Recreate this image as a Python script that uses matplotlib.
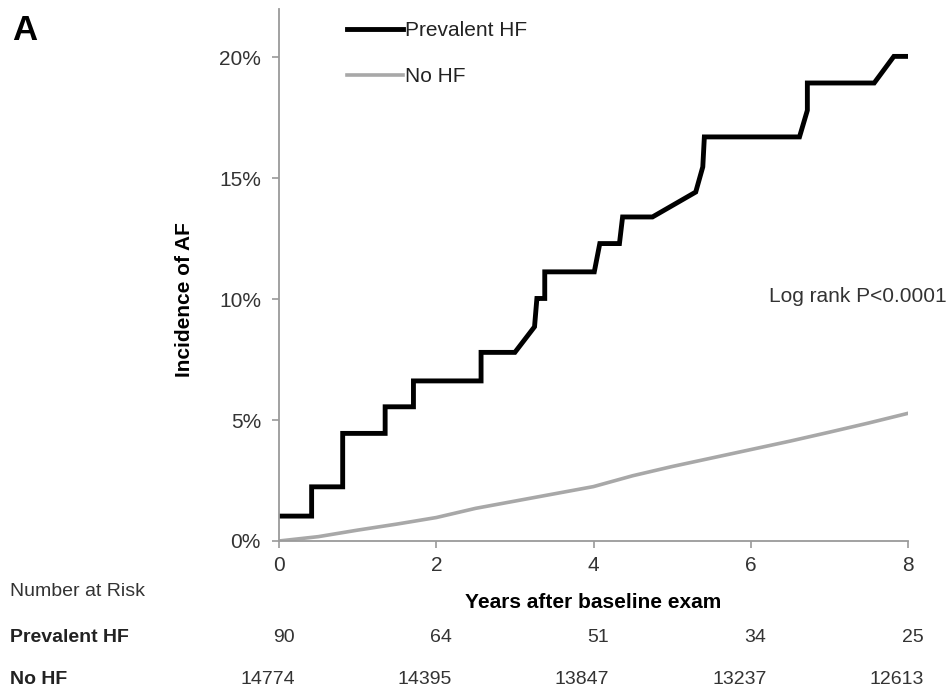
import matplotlib
matplotlib.use("Agg")
import matplotlib.pyplot as plt
import matplotlib.transforms as mtransforms
from matplotlib.ticker import FuncFormatter

plt.rcParams['font.family'] = ['Liberation Sans Narrow', 'Liberation Sans', 'DejaVu Sans']

# curve (years, incidence %)
hf_years = [0, 0.415, 0.415, 0.81, 0.81, 1.35, 1.35, 1.71, 1.71, 2.57, 2.57, 3.0,
            3.25, 3.28, 3.31, 3.38, 3.38, 4.01, 4.08, 4.33, 4.37, 4.75, 5.30,
            5.39, 5.41, 6.62, 6.72, 6.72, 7.57, 7.82, 8.0]
hf_inc = [1.03, 1.03, 2.24, 2.24, 4.45, 4.45, 5.55, 5.55, 6.62, 6.62, 7.8, 7.8,
          8.86, 10.03, 10.03, 10.03, 11.13, 11.13, 12.3, 12.3, 13.4, 13.4, 14.43,
          15.47, 16.71, 16.71, 17.81, 18.94, 18.94, 20.04, 20.04]

nohf_years = [0, 0.5, 1, 1.5, 2, 2.5, 3, 3.5, 4, 4.5, 5, 5.5, 6, 6.5, 7, 7.5, 8]
nohf_inc = [0, 0.18, 0.45, 0.7, 0.97, 1.35, 1.65, 1.95, 2.25, 2.7, 3.08, 3.43,
            3.78, 4.13, 4.5, 4.88, 5.28]

risk_years = [0, 2, 4, 6, 8]
risk_hf = [90, 64, 51, 34, 25]
risk_nohf = [14774, 14395, 13847, 13237, 12613]

fig = plt.figure(figsize=(9.52, 6.95), dpi=100)
ax = fig.add_axes([279/952, 1-541/695, 629/952, 532/695])

ax.plot(hf_years, hf_inc, color='black', lw=3.5, label='Prevalent HF', solid_joinstyle='miter')
ax.plot(nohf_years, nohf_inc, color='#a8a8a8', lw=2.6, label='No HF')

ax.set_xlim(0, 8)
ax.set_ylim(0, 22)
ax.set_xticks(risk_years)
ax.set_yticks([0, 5, 10, 15, 20])
ax.yaxis.set_major_formatter(FuncFormatter(lambda v, p: '%d%%' % v))
for s in ['top', 'right']:
    ax.spines[s].set_visible(False)
for s in ['left', 'bottom']:
    ax.spines[s].set_color('#9a9a9a')
    ax.spines[s].set_linewidth(1.3)
ax.tick_params(colors='#9a9a9a', length=5, width=1.2, labelcolor='#333333')
ax.tick_params(axis='y', labelsize=15, pad=8)
ax.tick_params(axis='x', labelsize=15, pad=6)

leg = ax.legend(loc='upper left', bbox_to_anchor=(0.095, 0.993), frameon=False,
                fontsize=15, handlelength=2.7, handletextpad=0.1,
                labelspacing=1.3, borderaxespad=0)
for t in leg.get_texts():
    t.set_color('#222222')

ax.text(1.062, 10.1, 'Log rank P<0.0001', transform=ax.get_yaxis_transform(),
        ha='right', va='center', fontsize=15, color='#333333')

fig.text(12/952, 1-30/695, 'A', fontsize=25, fontweight='bold', family='Liberation Sans',
         ha='left', va='center')
fig.text(185/952, 1-300/695, 'Incidence of AF', rotation=90, fontsize=15,
         fontweight='bold', ha='center', va='center', family='Liberation Sans')
fig.text(593/952, 1-603/695, 'Years after baseline exam', fontsize=15,
         fontweight='bold', ha='center', va='center', family='Liberation Sans')

fig.text(10/952, 1-592/695, 'Number at Risk', fontsize=14, color='#333333', va='center')
fig.text(10/952, 1-637/695, 'Prevalent HF', fontsize=14, fontweight='bold',
         color='#222222', va='center')
fig.text(10/952, 1-680/695, 'No HF', fontsize=14, fontweight='bold',
         color='#222222', va='center')

# numbers at risk, right aligned just past each tick
trans = mtransforms.blended_transform_factory(ax.transData, fig.transFigure)
for yr, a, b in zip(risk_years, risk_hf, risk_nohf):
    ax.text(yr + 0.2, 1-637/695, str(a), transform=trans, ha='right', va='center',
            fontsize=14, color='#333333', clip_on=False)
    ax.text(yr + 0.2, 1-680/695, str(b), transform=trans, ha='right', va='center',
            fontsize=14, color='#333333', clip_on=False)

fig.savefig('out.png', dpi=100, facecolor='white')
